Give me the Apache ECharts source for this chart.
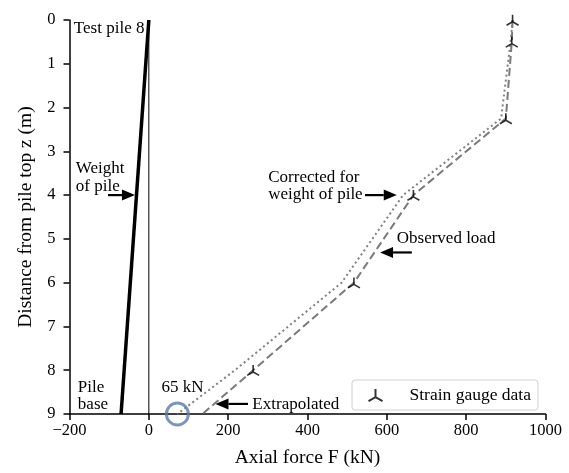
<!DOCTYPE html>
<html>
<head>
<meta charset="utf-8">
<script src="https://cdn.jsdelivr.net/npm/echarts@6/dist/echarts.min.js"></script>
<style>
html, body { margin: 0; padding: 0; background: #fff; }
#main { width: 569px; height: 473px; }
</style>
</head>
<body>
<div id="main"></div>
<script>
// depth below pile top (m) and axial force (kN)
var depth = [0, 0.5, 2.25, 4, 6, 8, 9];
var observedLoad = [917, 915, 900, 667, 517, 263, 135];
var correctedLoad = [917, 912, 888, 641, 486, 217, 72];
var gaugeDepth = [0, 0.5, 2.25, 4, 6, 8];
var gaugeLoad = [917, 915, 900, 667, 517, 263];
var weightDepth = [0, 9];
var weightLoad = [0, -70];
var baseDepth = [9];
var baseLoad = [72];
var xTicks = [-200, 0, 200, 400, 600, 800, 1000];
var zTicks = [0, 1, 2, 3, 4, 5, 6, 7, 8, 9];

var FONT = 'Liberation Serif, Times New Roman, serif';
var TRI = 'path://M0,0 L0,-10 M0,0 L-8.66,5 M0,0 L8.66,5';

function pairs(xs, ys) {
	var out = [];
	for (var i = 0; i < xs.length; i++) out.push([xs[i], ys[i]]);
	return out;
}

var chart = echarts.init(document.getElementById('main'));

option = {
	animation: false,
	backgroundColor: '#fff',
	textStyle: { fontFamily: FONT },
	grid: { left: 69.5, right: 23.5, top: 20, bottom: 55, containLabel: false },
	legend: {
		data: [{ name: 'Strain gauge data', icon: TRI }],
		left: 352, top: 380,
		padding: [6, 7, 6, 14],
		itemWidth: 14, itemHeight: 14,
		borderColor: '#d0d0d0', borderWidth: 1, borderRadius: 3,
		textStyle: { fontFamily: FONT, fontSize: 17.5, color: '#000', padding: [0, 0, 0, 22] }
	},
	xAxis: {
		type: 'value',
		min: xTicks[0], max: xTicks[xTicks.length - 1], interval: 200,
		name: 'Axial force F (kN)',
		nameLocation: 'middle', nameGap: 34,
		nameTextStyle: { fontFamily: FONT, fontSize: 19.5, color: '#000' },
		axisLine: { onZero: false, lineStyle: { color: '#000', width: 1.5 } },
		axisTick: { show: true, length: 6, lineStyle: { color: '#000', width: 1.5 } },
		axisLabel: {
			margin: 8, fontFamily: FONT, fontSize: 16.5, color: '#000',
			formatter: function (v) { return v < 0 ? '\u2212' + (-v) : String(v); }
		},
		splitLine: { show: false }
	},
	yAxis: {
		type: 'value',
		inverse: true,
		min: zTicks[0], max: zTicks[zTicks.length - 1], interval: 1,
		name: 'Distance from pile top z (m)',
		nameLocation: 'middle', nameGap: 31,
		nameTextStyle: { fontFamily: FONT, fontSize: 19.5, color: '#000' },
		axisLine: { onZero: false, lineStyle: { color: '#000', width: 1.5 } },
		axisTick: { show: true, length: 6, lineStyle: { color: '#000', width: 1.5 } },
		axisLabel: { margin: 14, fontFamily: FONT, fontSize: 16.5, color: '#000' },
		splitLine: { show: false }
	},
	series: [
		{
			name: 'zero',
			type: 'line',
			data: [[0, 0], [0, 9]],
			symbol: 'none',
			lineStyle: { color: '#000', width: 1 },
			silent: true
		},
		{
			name: 'Weight of pile',
			type: 'line',
			data: pairs(weightLoad, weightDepth),
			symbol: 'none',
			lineStyle: { color: '#000', width: 3.5 }
		},
		{
			name: 'Corrected',
			type: 'line',
			data: pairs(correctedLoad, depth),
			symbol: 'none',
			lineStyle: { color: '#808080', width: 2, type: [2, 3] }
		},
		{
			name: 'Observed load',
			type: 'line',
			data: pairs(observedLoad, depth),
			symbol: 'none',
			lineStyle: { color: '#7a7a7a', width: 2, type: [8, 4] }
		},
		{
			name: 'Strain gauge data',
			type: 'scatter',
			data: pairs(gaugeLoad, gaugeDepth),
			symbol: TRI,
			symbolSize: 12,
			symbolKeepAspect: true,
			itemStyle: { color: 'none', borderColor: '#000', borderWidth: 1.6 },
			z: 5
		},
		{
			name: 'base',
			type: 'scatter',
			data: pairs(baseLoad, baseDepth),
			symbol: 'circle',
			symbolSize: 22,
			itemStyle: { color: 'none', borderColor: '#5a7aaa', borderWidth: 3 },
			z: 6
		}
	]
};

chart.setOption(option);

// annotations in data units: [F, z]
var labels = [
	{ text: 'Test pile 8', at: [-189, 0.2] },
	{ text: 'Weight', at: [-184, 3.39] },
	{ text: 'of pile', at: [-184, 3.8] },
	{ text: 'Pile', at: [-179, 8.4] },
	{ text: 'base', at: [-179, 8.79] },
	{ text: '65 kN', at: [32, 8.4] },
	{ text: 'Extrapolated', at: [261, 8.79] },
	{ text: 'Corrected for', at: [301, 3.6] },
	{ text: 'weight of pile', at: [301, 3.98] },
	{ text: 'Observed load', at: [625, 4.99] }
];
var arrows = [
	{ from: [-103, 4], to: [-35, 4] },
	{ from: [545, 4], to: [625, 4] },
	{ from: [663, 5.31], to: [583, 5.31] },
	{ from: [250, 8.77], to: [168, 8.77] }
];

function px(p) { return chart.convertToPixel({ gridIndex: 0 }, p); }

var graphics = [];
labels.forEach(function (l) {
	var p = px(l.at);
	graphics.push({
		type: 'text', x: p[0], y: p[1], z: 10,
		style: { text: l.text, fill: '#000', font: '17px ' + FONT, textVerticalAlign: 'middle', verticalAlign: 'middle' }
	});
});
arrows.forEach(function (a) {
	var s = px(a.from), e = px(a.to);
	var dx = e[0] - s[0], dy = e[1] - s[1];
	var len = Math.sqrt(dx * dx + dy * dy);
	var ux = dx / len, uy = dy / len;
	var hl = 13, hw = 5.5;
	var bx = e[0] - ux * hl, by = e[1] - uy * hl;
	graphics.push({
		type: 'line', z: 10,
		shape: { x1: s[0], y1: s[1], x2: bx, y2: by },
		style: { stroke: '#000', lineWidth: 2.2 }
	});
	graphics.push({
		type: 'polygon', z: 10,
		shape: { points: [[e[0], e[1]], [bx - uy * hw, by + ux * hw], [bx + uy * hw, by - ux * hw]] },
		style: { fill: '#000' }
	});
});
chart.setOption({ graphic: graphics });
</script>
</body>
</html>
